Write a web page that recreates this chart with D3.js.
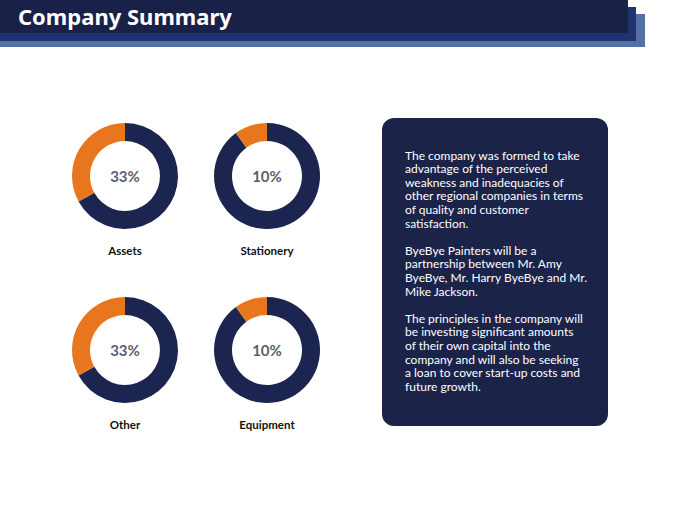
<!DOCTYPE html>
<html>
<head>
<meta charset="utf-8">
<title>Company Summary</title>
<script src="https://cdn.jsdelivr.net/npm/d3@7"></script>
<style>
  body { margin: 0; background: #fff; }
  svg { display: block; font-family: Lato, "Noto Sans", sans-serif; }
</style>
</head>
<body>
<script>
// chart data
var categories = ["Assets", "Stationery", "Other", "Equipment"];
var shares = [33, 10, 33, 10]; // percent shown in orange
var paragraphs = [
  ["The company was formed to take", "advantage of the perceived", "weakness and inadequacies of",
   "other regional companies in terms", "of quality and customer", "satisfaction."],
  ["ByeBye Painters will be a", "partnership between Mr. Amy", "ByeBye, Mr. Harry ByeBye and Mr.",
   "Mike Jackson."],
  ["The principles in the company will", "be investing significant amounts", "of their own capital into the",
   "company and will also be seeking", "a loan to cover start-up costs and", "future growth."]
];

var width = 680, height = 510;
var navy = "#1b2550", orange = "#e8761e";

var svg = d3.select("body").append("svg").attr("width", width).attr("height", height);

// header bands
svg.append("rect").attr("x", 0).attr("y", 14).attr("width", 645).attr("height", 33).attr("fill", "#5470a4");
svg.append("rect").attr("x", 0).attr("y", 7).attr("width", 636).attr("height", 34).attr("fill", "#1f3271");
svg.append("rect").attr("x", 0).attr("y", 0).attr("width", 628).attr("height", 33).attr("fill", "#1a2148");
svg.append("text").attr("x", 18).attr("y", 25).attr("fill", "#fff")
  .attr("font-family", "'Noto Sans', sans-serif")
  .attr("font-size", 22).attr("font-weight", 700).text("Company Summary");

// donuts
var xPos = d3.scalePoint().domain([0, 1]).range([125, 267]);
var yPos = d3.scalePoint().domain([0, 1]).range([176, 350]);
var pie = d3.pie().sort(null);
var arc = d3.arc().innerRadius(35).outerRadius(53);

var cells = svg.selectAll("g.donut").data(categories).enter().append("g")
  .attr("class", "donut")
  .attr("transform", function(d, i) { return "translate(" + xPos(i % 2) + "," + yPos(Math.floor(i / 2)) + ")"; });

cells.selectAll("path").data(function(d, i) { return pie([100 - shares[i], shares[i]]); })
  .enter().append("path")
  .attr("d", arc)
  .attr("fill", function(d, j) { return j === 0 ? navy : orange; });

cells.append("text").attr("text-anchor", "middle").attr("y", 5.5)
  .attr("font-size", 15).attr("font-weight", 700).attr("fill", "#5b5f6e")
  .text(function(d, i) { return shares[i] + "%"; });

cells.append("text").attr("text-anchor", "middle").attr("y", 79)
  .attr("font-size", 11.5).attr("font-weight", 700).attr("fill", "#111")
  .text(function(d) { return d; });

// text box
svg.append("rect").attr("x", 382).attr("y", 118).attr("width", 226).attr("height", 308)
  .attr("rx", 12).attr("fill", "#1b2349");

var lines = [];
paragraphs.forEach(function(p, k) {
  if (k > 0) lines.push("");
  p.forEach(function(l) { lines.push(l); });
});
var lineY = d3.scaleLinear().domain([0, 1]).range([159.5, 173.1]);
svg.append("g").selectAll("text").data(lines).enter().append("text")
  .attr("x", 405).attr("y", function(d, i) { return lineY(i); })
  .attr("font-size", 12).attr("fill", "#fff")
  .text(function(d) { return d; });
</script>
</body>
</html>
